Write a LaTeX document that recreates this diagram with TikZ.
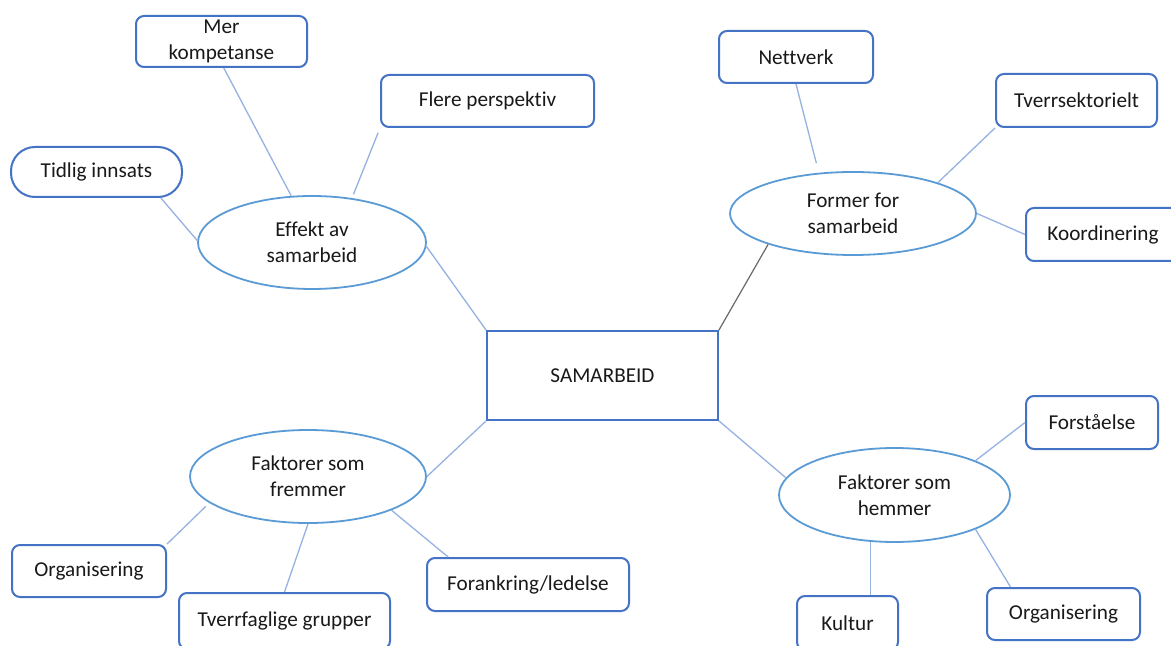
\documentclass[tikz,border=0pt]{standalone}
\usepackage{fontspec}
\setmainfont{Carlito}[Ligatures={NoCommon}]
\usetikzlibrary{shapes.geometric}
\definecolor{boxblue}{RGB}{68,114,196}
\definecolor{ellblue}{RGB}{91,155,213}
\definecolor{linkblue}{RGB}{150,178,226}
\definecolor{darkline}{RGB}{105,105,105}
\begin{document}
\begin{tikzpicture}[x=0.5pt,y=-0.5pt,
  every node/.style={font=\fontsize{10.6}{13}\selectfont, align=center, inner sep=0pt, text=black!90},
  box/.style={draw=boxblue, line width=1pt, rounded corners=4pt, fill=white},
  pill/.style={box, rounded corners=12pt},
  ell/.style={ellipse, draw=ellblue, line width=0.9pt, fill=white},
  centre/.style={draw=boxblue, line width=0.9pt, fill=white},
  link/.style={draw=linkblue, line width=0.65pt},
  darklink/.style={draw=darkline, line width=0.6pt},
]
\useasboundingbox (0,0) rectangle (1171,646);
\fill[white] (0,0) rectangle (1171,646);

% centre
\node[centre, minimum width=115.5pt, minimum height=44.5pt] (samarbeid) at (602.5,375.5) {SAMARBEID};

% Effekt av samarbeid
\node[ell, minimum width=114pt, minimum height=46.5pt] (effekt) at (312,242.5) {Effekt av\\samarbeid};
\node[box, minimum width=85.5pt, minimum height=25.5pt, text depth=2pt] (merk) at (221.5,41.5) {Mer\\kompetanse};
\node[box, minimum width=106.5pt, minimum height=26pt] (flere) at (487.5,101) {Flere perspektiv};
\node[pill, minimum width=85.5pt, minimum height=25pt] (tidlig) at (96.5,172) {Tidlig innsats};

% Former for samarbeid
\node[ell, minimum width=123pt, minimum height=41.5pt] (former) at (853,213.5) {Former for\\samarbeid};
\node[box, minimum width=77pt, minimum height=26pt] (nettverk) at (796,57) {Nettverk};
\node[box, minimum width=80.5pt, minimum height=26.5pt] (tverrsek) at (1076.5,100.5) {Tverrsektorielt};
\node[box, minimum width=77pt, minimum height=26.5pt] (koord) at (1103,234.5) {Koordinering};

% Faktorer som fremmer
\node[ell, minimum width=118pt, minimum height=46.5pt] (fremmer) at (308,476.5) {Faktorer som\\fremmer};
\node[box, minimum width=77pt, minimum height=26pt] (orgA) at (89,571) {Organisering};
\node[box, minimum width=105.5pt, minimum height=28pt] (tverrf) at (284.5,621) {Tverrfaglige grupper};
\node[box, minimum width=101pt, minimum height=26.5pt] (forank) at (528,584.5) {Forankring/ledelse};

% Faktorer som hemmer
\node[ell, minimum width=115.5pt, minimum height=47pt] (hemmer) at (894.5,495) {Faktorer som\\hemmer};
\node[box, minimum width=66pt, minimum height=26.5pt] (forst) at (1092,422.5) {Forståelse};
\node[box, minimum width=50.5pt, minimum height=27pt] (kultur) at (847.5,623) {Kultur};
\node[box, minimum width=76.5pt, minimum height=26pt] (orgB) at (1063.5,614) {Organisering};

% connectors
\draw[link] (tidlig.-22) -- (effekt.179);
\draw[link] (merk.-85) -- (effekt.114);
\draw[link, shorten <=2.5pt, shorten >=2pt] (flere.south west) -- (effekt.48);
\draw[link] (effekt.-2) -- (samarbeid.north west);

\draw[link, shorten >=5pt] (nettverk.south) -- (former.130);
\draw[link] (tverrsek.south west) -- (former.20);
\draw[link] (koord.west) -- (former.east);
\draw[darklink] (former.200) -- (samarbeid.north east);

\draw[link] (samarbeid.south west) -- (fremmer.east);
\draw[link, shorten >=2.5pt] (orgA.north east) -- (fremmer.195);
\draw[link] (fremmer.south) -- (tverrf.north);
\draw[link] (fremmer.-22) -- (forank.161);

\draw[link] (samarbeid.south east) -- (hemmer.171);
\draw[link] (forst.west) -- (hemmer.23);
\draw[link] (hemmer.243) -- (hemmer.243 |- kultur.north);
\draw[link] (hemmer.-23) -- (orgB.153);
\end{tikzpicture}
\end{document}
